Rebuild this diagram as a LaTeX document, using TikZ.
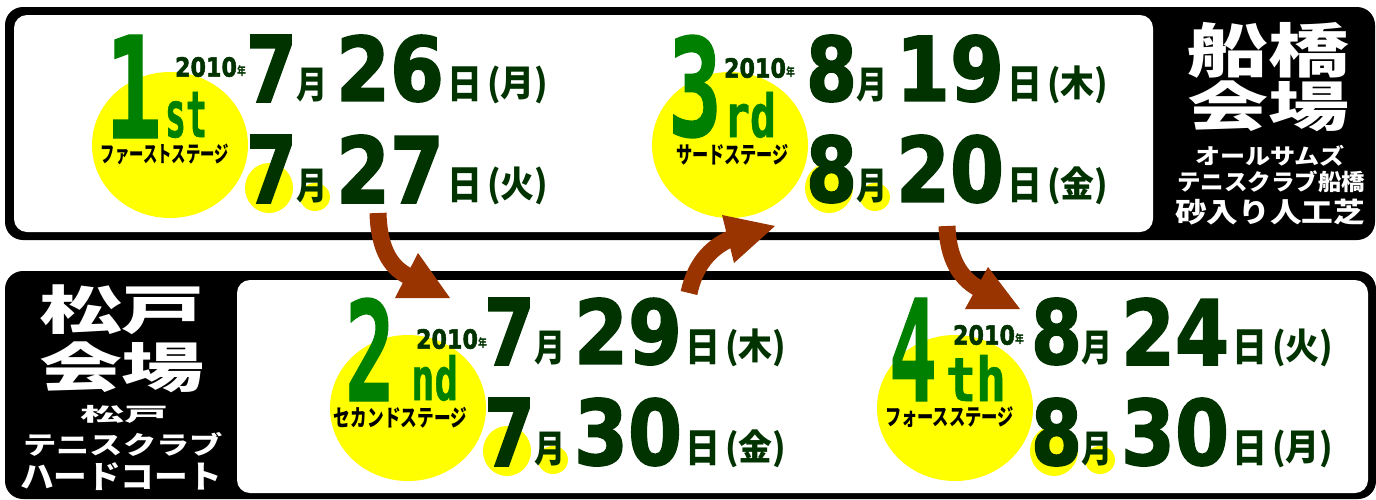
\documentclass[tikz,border=0pt]{standalone}
\usepackage{fontspec}
\usepackage{graphicx}
\IfFontExistsTF{Noto Sans CJK JP Black}
  {\newfontfamily\jpf{Noto Sans CJK JP Black}}
  {\newfontfamily\jpf{Noto Sans CJK JP Bold}[FakeBold=1.5]}
\newfontfamily\digf{DejaVu Sans Bold}[FakeBold=2]
\newfontfamily\monof{DejaVu Sans Mono Bold}[FakeBold=1]
\definecolor{dgreen}{RGB}{0,51,0}
\definecolor{lgreen}{RGB}{0,128,0}
\definecolor{yel}{RGB}{255,255,0}
\definecolor{brn}{RGB}{153,51,0}
\newcommand\fitt[3]{\resizebox*{#1}{#2}{#3}}
\tikzset{
  pc/.style={inner sep=0pt, outer sep=0pt, anchor=south west},
  wt/.style={inner sep=0pt, outer sep=0pt, anchor=center, text=white},
  arr/.style={brn, line width=17pt},
  ahead/.style={fill=brn},
}
% stage badge: #1 prefix, #2 numeral, #3 num left, #4 num width, #5 suffix, #6 suffix left, #7 suffix width, #8 stage text, #9 stage width
\newcommand\grp[9]{%
  \fill[yel] (170,145) ellipse [x radius=78pt, y radius=73pt];
  \fill[yel] (269,188) ellipse [x radius=24pt, y radius=25pt];
  \fill[yel] (315,197) ellipse [x radius=15pt, y radius=14pt];
  \node[pc, text=lgreen] (#1num) at (#3,138) {\fitt{#4pt}{103pt}{\monof #2}};
  \node[pc, text=lgreen] (#1suf) at (#6,138) {\fitt{#7pt}{46pt}{\monof #5}};
  \node[pc, anchor=south east] (#1stg) at (229,165) {\fitt{#9pt}{21pt}{\jpf #8}};
}
% dates: #1 prefix, #2 year left, #3 year bottom, #4 month digit, #5 day1, #6 wd1, #7 day2, #8 wd2
\newcommand\dts[8]{%
  \node[pc, text=dgreen] (#1yr) at (#2,#3) {\fitt{62pt}{20pt}{\digf 2010}};
  \node[pc, text=dgreen] (#1nen) at (#1yr.south east) {\fitt{9pt}{11pt}{\jpf 年}};
  \node[pc, text=dgreen] (#1ma) at (246,102) {\fitt{51pt}{67pt}{\digf #4}};
  \node[pc, text=dgreen] (#1mca) at (296,102) {\fitt{31pt}{34pt}{\jpf 月}};
  \node[pc, text=dgreen] (#1da) at (336,102) {\fitt{108pt}{67pt}{\digf #5}};
  \node[pc, text=dgreen] (#1dca) at (447,102) {\fitt{35pt}{35pt}{\jpf 日}};
  \node[pc, text=dgreen] (#1wa) at (487,104) {\fitt{61pt}{38pt}{\jpf (#6)}};
  \node[pc, text=dgreen] (#1mb) at (246,203) {\fitt{51pt}{68pt}{\digf #4}};
  \node[pc, text=dgreen] (#1mcb) at (296,203) {\fitt{31pt}{34pt}{\jpf 月}};
  \node[pc, text=dgreen] (#1db) at (336,203) {\fitt{108pt}{68pt}{\digf #7}};
  \node[pc, text=dgreen] (#1dcb) at (447,203) {\fitt{35pt}{35pt}{\jpf 日}};
  \node[pc, text=dgreen] (#1wb) at (487,205) {\fitt{61pt}{38pt}{\jpf (#8)}};
}
\begin{document}
\begin{tikzpicture}[x=1pt, y=-1pt]
\useasboundingbox (0,0) rectangle (1376,499);
\fill[white] (0,0) rectangle (1376,499);
% top frame (Funabashi)
\fill[black, rounded corners=18pt] (5,7) rectangle (1375,240);
\fill[white, rounded corners=13pt] (14,15) rectangle (1153,232);
% bottom frame (Matsudo)
\fill[black, rounded corners=18pt] (5,271) rectangle (1376,499);
\fill[white, rounded corners=13pt] (237,280) rectangle (1368,493);
% panel texts
\node[wt] (fb1) at (1268,50) {\fitt{162pt}{56pt}{\jpf 船橋}};
\node[wt] (fb2) at (1268,106) {\fitt{162pt}{51pt}{\jpf 会場}};
\node[wt] (fb3) at (1270,156) {\fitt{150pt}{21pt}{\jpf オールサムズ}};
\node[wt] (fb4) at (1271,182) {\fitt{188pt}{22pt}{\jpf テニスクラブ船橋}};
\node[wt] (fb5) at (1270,212) {\fitt{190pt}{26pt}{\jpf 砂入り人工芝}};
\node[wt] (md1) at (122,310) {\fitt{166pt}{50pt}{\jpf 松戸}};
\node[wt] (md2) at (122,367) {\fitt{166pt}{51pt}{\jpf 会場}};
\node[wt] (md3) at (124,414) {\fitt{88pt}{18pt}{\jpf 松戸}};
\node[wt] (md4) at (123,444) {\fitt{200pt}{24pt}{\jpf テニスクラブ}};
\node[wt] (md5) at (121,477) {\fitt{202pt}{28pt}{\jpf ハードコート}};
% stage groups
\begin{scope}
  \grp{a}{1}{105}{57}{st}{165}{42}{ファーストステージ}{128}
  \dts{a}{175}{77}{7}{26}{月}{27}{火}
\end{scope}
\begin{scope}[shift={(560,0)}]
  \grp{c}{3}{108}{54}{rd}{164}{52}{サードステージ}{113}
  \dts{c}{164}{78}{8}{19}{木}{20}{金}
\end{scope}
\begin{scope}[shift={(238,263)}]
  \grp{b}{2}{107}{50}{nd}{173}{47}{セカンドステージ}{133}
  \dts{b}{178}{86}{7}{29}{木}{30}{金}
\end{scope}
\begin{scope}[shift={(785,263)}]
  \grp{d}{4}{104}{48}{th}{161}{60}{フォースステージ}{129}
  \dts{d}{168}{82}{8}{24}{火}{30}{月}
\end{scope}
% arrows
\coordinate (p1s) at (378,213);
\coordinate (p1e) at (408,276);
\coordinate (p1a) at (418,253);
\coordinate (p1t) at (450,298);
\coordinate (p1b) at (395,298);
\draw[arr] (p1s) .. controls (379,248) and (390,267) .. (p1e);
\fill[ahead] (p1a) -- (p1t) -- (p1b) -- cycle;
\coordinate (p2s) at (689,293);
\coordinate (p2e) at (730,239);
\coordinate (p2a) at (722,215);
\coordinate (p2t) at (775,226);
\coordinate (p2b) at (734,263);
\draw[arr] (p2s) .. controls (695,265) and (710,248) .. (p2e);
\fill[ahead] (p2a) -- (p2t) -- (p2b) -- cycle;
\coordinate (p3s) at (947,226);
\coordinate (p3e) at (978,288);
\coordinate (p3a) at (988,267);
\coordinate (p3t) at (1020,309);
\coordinate (p3b) at (965,309);
\draw[arr] (p3s) .. controls (948,258) and (960,278) .. (p3e);
\fill[ahead] (p3a) -- (p3t) -- (p3b) -- cycle;
\end{tikzpicture}
\end{document}
